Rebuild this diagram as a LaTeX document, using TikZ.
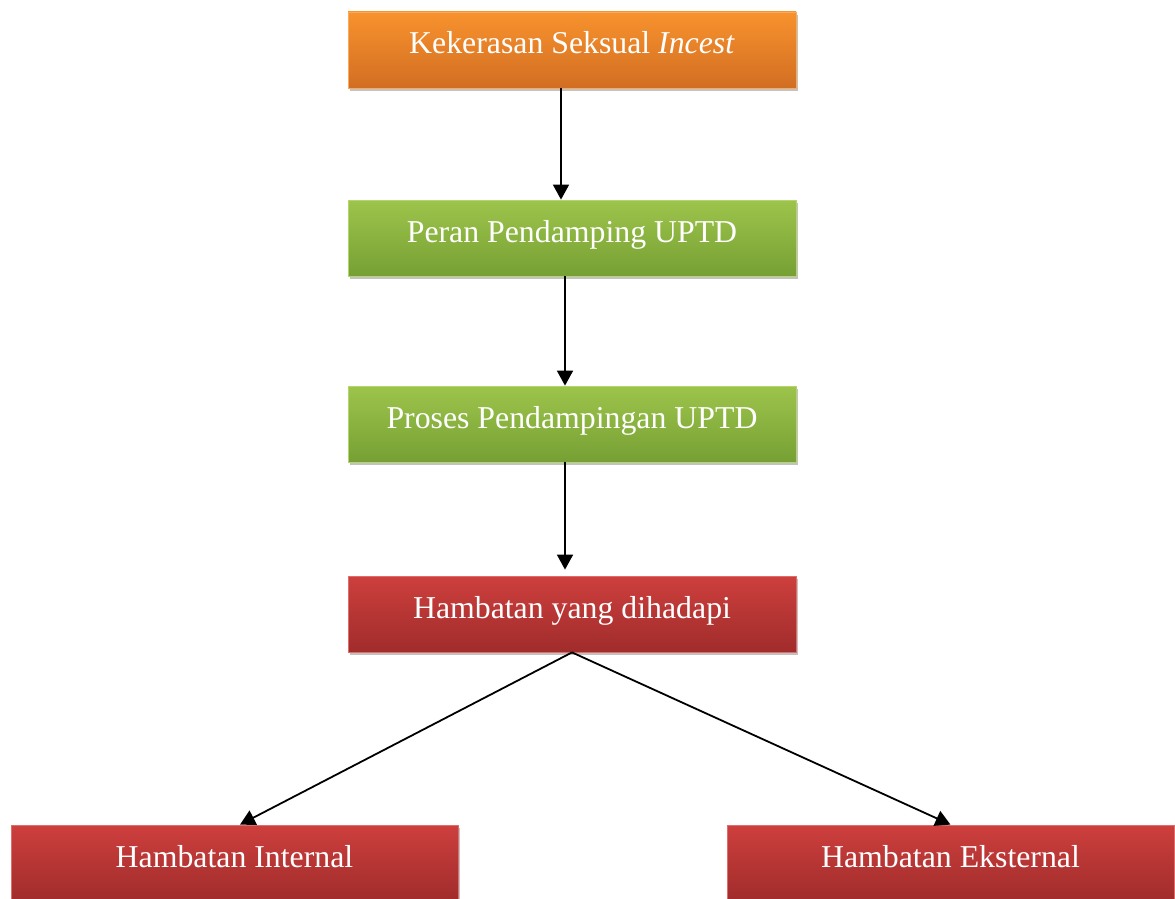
\documentclass[tikz,border=0pt]{standalone}
\usepackage{fontspec}
\setmainfont{Liberation Serif}
\usetikzlibrary{shadows,arrows.meta}
\definecolor{orT}{RGB}{248,146,46}
\definecolor{orB}{RGB}{210,110,34}
\definecolor{orE}{RGB}{250,170,90}
\definecolor{grT}{RGB}{157,196,75}
\definecolor{grB}{RGB}{118,160,52}
\definecolor{grE}{RGB}{180,212,110}
\definecolor{rdT}{RGB}{205,63,61}
\definecolor{rdB}{RGB}{160,44,43}
\definecolor{rdE}{RGB}{222,110,108}
\tikzset{
  boxbase/.style={anchor=base, inner xsep=0pt, inner ysep=0pt, minimum width=448pt,
    text height=42pt, text depth=34pt, text=white, line width=0.8pt,
    font=\fontsize{31.8}{38}\selectfont,
    drop shadow={shadow xshift=2pt, shadow yshift=-3pt, opacity=0.4, fill=black!60}},
  orangebox/.style={boxbase, top color=orT, bottom color=orB, draw=orE},
  greenbox/.style={boxbase, top color=grT, bottom color=grB, draw=grE},
  redbox/.style={boxbase, top color=rdT, bottom color=rdB, draw=rdE},
  conn/.style={line width=1.8pt, -{Triangle[width=16pt,length=15pt]}}
}
\begin{document}
\begin{tikzpicture}[x=1pt,y=-1pt]
\useasboundingbox (0,0) rectangle (1175,899);
\clip (0,0) rectangle (1175,899);
\node[orangebox] (b1) at (572,54) {Kekerasan Seksual \textit{Incest}};
\node[greenbox] (b2) at (572,242) {Peran Pendamping UPTD};
\node[greenbox] (b3) at (572,428) {Proses Pendampingan UPTD};
\node[redbox] (b4) at (572,618) {Hambatan yang dihadapi};
\node[redbox, minimum width=447pt] (b5) at (234.5,867) {Hambatan Internal};
\node[redbox, minimum width=447pt] (b6) at (950.5,867) {Hambatan Eksternal};
\draw[conn] ([xshift=-11pt]b1.south) -- ([xshift=-11pt]b2.north);
\draw[conn] ([xshift=-7pt]b2.south) -- ([xshift=-7pt]b3.north);
\draw[conn, shorten >=6pt] ([xshift=-7pt]b3.south) -- ([xshift=-7pt]b4.north);
\draw[conn] (b4.south) -- ([xshift=5.5pt]b5.north);
\draw[conn] (b4.south) -- (b6.north);
\end{tikzpicture}
\end{document}
